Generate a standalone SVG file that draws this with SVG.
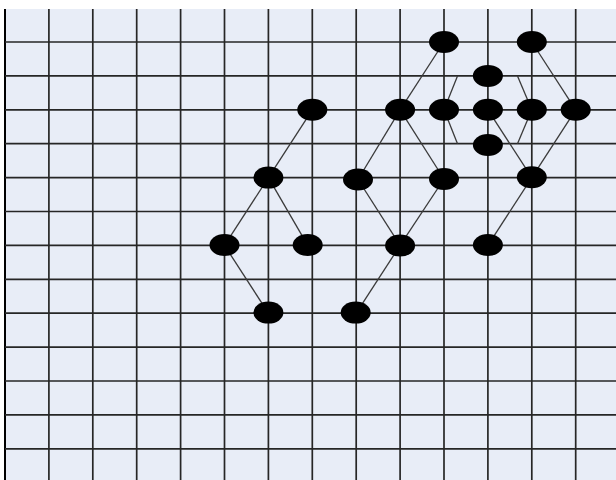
<svg xmlns="http://www.w3.org/2000/svg" width="616" height="480" viewBox="0 0 616 480">
<style>
.grid line{stroke:#262626;stroke-width:1.7}
.edges line{stroke:#3a3a3a;stroke-width:1.3}
.node ellipse{fill:#000;rx:15px;ry:11px}
</style>
<rect x="0" y="0" width="616" height="480" fill="#ffffff"/>
<rect x="5" y="9" width="611" height="471" fill="#e8edf7"/>
<g class="grid" id="grid">
<line x1="5" y1="9" x2="5" y2="480" style="stroke:#000;stroke-width:2"/>
<line x1="48.9" y1="9" x2="48.9" y2="480"/>
<line x1="92.8" y1="9" x2="92.8" y2="480"/>
<line x1="136.7" y1="9" x2="136.7" y2="480"/>
<line x1="180.6" y1="9" x2="180.6" y2="480"/>
<line x1="224.5" y1="9" x2="224.5" y2="480"/>
<line x1="268.4" y1="9" x2="268.4" y2="480"/>
<line x1="312.3" y1="9" x2="312.3" y2="480"/>
<line x1="356.2" y1="9" x2="356.2" y2="480"/>
<line x1="400.1" y1="9" x2="400.1" y2="480"/>
<line x1="444" y1="9" x2="444" y2="480"/>
<line x1="487.9" y1="9" x2="487.9" y2="480"/>
<line x1="531.8" y1="9" x2="531.8" y2="480"/>
<line x1="575.7" y1="9" x2="575.7" y2="480"/>
<line x1="5" y1="42" x2="616" y2="42"/>
<line x1="5" y1="75.9" x2="616" y2="75.9"/>
<line x1="5" y1="109.8" x2="616" y2="109.8"/>
<line x1="5" y1="143.7" x2="616" y2="143.7"/>
<line x1="5" y1="177.6" x2="616" y2="177.6"/>
<line x1="5" y1="211.5" x2="616" y2="211.5"/>
<line x1="5" y1="245.4" x2="616" y2="245.4"/>
<line x1="5" y1="279.3" x2="616" y2="279.3"/>
<line x1="5" y1="313.2" x2="616" y2="313.2"/>
<line x1="5" y1="347.1" x2="616" y2="347.1"/>
<line x1="5" y1="381" x2="616" y2="381"/>
<line x1="5" y1="414.9" x2="616" y2="414.9"/>
<line x1="5" y1="448.8" x2="616" y2="448.8"/>
</g>
<g class="edges" id="connectors">
<line x1="312.3" y1="109.8" x2="268.4" y2="177.6"/>
<line x1="268.4" y1="177.6" x2="224.5" y2="245.4"/>
<line x1="268.4" y1="177.6" x2="307.7" y2="245.4"/>
<line x1="224.5" y1="245.4" x2="268.4" y2="313.2"/>
<line x1="400.1" y1="109.8" x2="358" y2="179.5"/>
<line x1="358" y1="179.5" x2="400.1" y2="245.4"/>
<line x1="400.1" y1="245.4" x2="356.2" y2="313.2"/>
<line x1="400.1" y1="245.4" x2="444" y2="179"/>
<line x1="400.1" y1="109.8" x2="444" y2="179"/>
<line x1="444" y1="42" x2="400.1" y2="109.8"/>
<line x1="531.8" y1="42" x2="575.7" y2="109.8"/>
<line x1="575.7" y1="109.8" x2="531.8" y2="177.6"/>
<line x1="531.8" y1="177.6" x2="487.9" y2="245.4"/>
<line x1="487.9" y1="109.8" x2="531.8" y2="177.6"/>
<line x1="457.5" y1="75.9" x2="444" y2="109.8"/>
<line x1="517.5" y1="75.9" x2="531.8" y2="109.8"/>
<line x1="444" y1="109.8" x2="457.5" y2="143.7"/>
<line x1="531.8" y1="109.8" x2="517.5" y2="143.7"/>
</g>
<g class="node" id="n1"><ellipse cx="444" cy="42"/></g>
<g class="node" id="n2"><ellipse cx="531.8" cy="42"/></g>
<g class="node" id="n3"><ellipse cx="487.9" cy="75.9"/></g>
<g class="node" id="n4"><ellipse cx="312.3" cy="109.8"/></g>
<g class="node" id="n5"><ellipse cx="400.1" cy="109.8"/></g>
<g class="node" id="n6"><ellipse cx="444" cy="109.8"/></g>
<g class="node" id="n7"><ellipse cx="487.9" cy="109.8"/></g>
<g class="node" id="n8"><ellipse cx="531.8" cy="109.8"/></g>
<g class="node" id="n9"><ellipse cx="575.7" cy="109.8"/></g>
<g class="node" id="n10"><ellipse cx="487.9" cy="145"/></g>
<g class="node" id="n11"><ellipse cx="268.4" cy="177.6"/></g>
<g class="node" id="n12"><ellipse cx="358" cy="179.5"/></g>
<g class="node" id="n13"><ellipse cx="444" cy="179"/></g>
<g class="node" id="n14"><ellipse cx="531.8" cy="177.3"/></g>
<g class="node" id="n15"><ellipse cx="224.5" cy="245"/></g>
<g class="node" id="n16"><ellipse cx="307.7" cy="245"/></g>
<g class="node" id="n17"><ellipse cx="400.1" cy="245.6"/></g>
<g class="node" id="n18"><ellipse cx="487.9" cy="245"/></g>
<g class="node" id="n19"><ellipse cx="268.4" cy="312.6"/></g>
<g class="node" id="n20"><ellipse cx="355.7" cy="312.6"/></g>
</svg>
